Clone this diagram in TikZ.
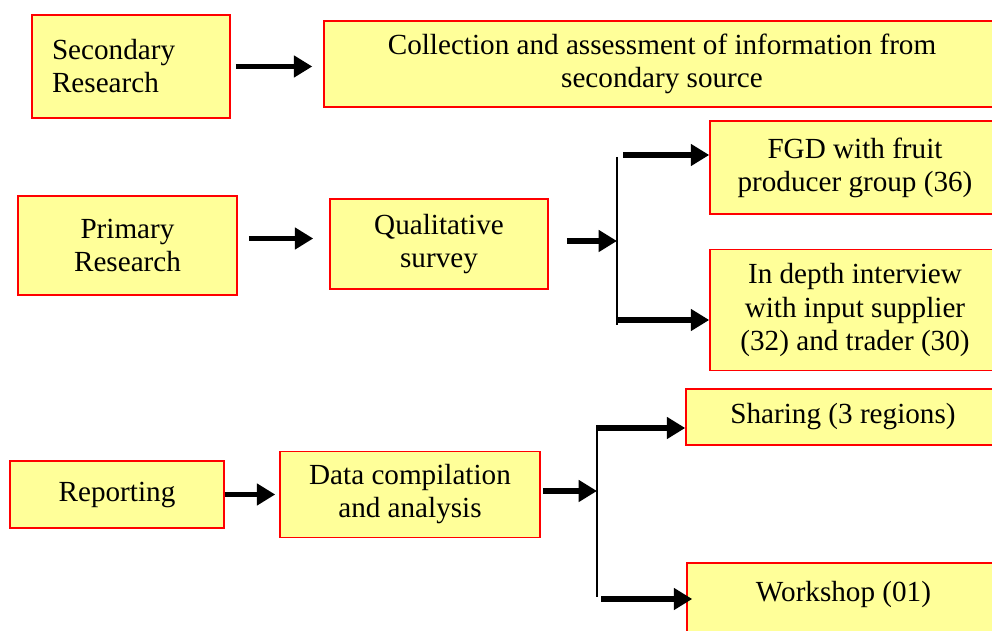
\documentclass[tikz,border=0pt]{standalone}
\usepackage{fontspec}
\setmainfont{Liberation Serif}
\usepackage{xcolor}
\usetikzlibrary{arrows.meta,calc}
\definecolor{boxfill}{HTML}{FFFF99}

\begin{document}
\begin{tikzpicture}[
  x=0.02cm, y=-0.02cm,
  every node/.style={font=\fontsize{16.6}{18.8}\selectfont},
  box/.style={draw=red, line width=0.9pt, fill=boxfill, align=center, inner sep=0pt},
  arr/.style={-{Triangle[length=10.5pt,width=12pt]}, line width=3.1pt},
  bar/.style={line width=1.1pt}
]
  \useasboundingbox (0,0) rectangle (992,631);
  % secondary research
  \node[box, minimum width=3.96cm, minimum height=2.06cm, text width=3.16cm, align=left] (sec) at (131,66.5) {Secondary\\Research};
  \node[box, minimum width=13.52cm, minimum height=1.72cm] (coll) at (662,64)
    {Collection and assessment of information from\\secondary source};
  \draw[arr, shorten <=0.1cm, shorten >=0.22cm] (sec.east) -- (sec.east -| coll.west);
  % primary research
  \node[box, minimum width=4.38cm, minimum height=1.98cm] (prim) at (127.5,245.5) {Primary\\Research};
  \node[box, minimum width=4.36cm, minimum height=1.8cm] (qual) at (439,244) {Qualitative\\survey};
  \node[box, minimum width=5.8cm, minimum height=1.86cm] (fgd) at (855,167.5) {FGD with fruit\\producer group (36)};
  \node[box, minimum width=5.8cm, minimum height=2.42cm] (depth) at (855,310)
    {In depth interview\\with input supplier\\(32) and trader (30)};
  \coordinate (qjoin) at (617,241);
  \coordinate (qtop) at (617,155);
  \coordinate (qlow) at (617,320);
  \draw[arr, shorten <=0.22cm, shorten >=0.32cm] ([yshift=0.14cm]prim.east) -- ([yshift=0.14cm]prim.east -| qual.west);
  \draw[arr, shorten <=0.36cm] (qual.east |- qjoin) -- (qjoin);
  \draw[bar] (617,157) -- (617,325);
  \draw[arr, shorten <=0.12cm] (qtop) -- (qtop -| fgd.west);
  \draw[arr] (qlow) -- (qlow -| depth.west);
  % reporting
  \node[box, minimum width=4.28cm, minimum height=1.34cm] (rep) at (117,494.5) {Reporting};
  \node[box, minimum width=5.2cm, minimum height=1.72cm] (data) at (410,494.5) {Data compilation\\and analysis};
  \node[box, minimum width=6.28cm, minimum height=1.12cm] (share) at (843,417) {Sharing (3 regions)};
  \node[box, anchor=north, minimum width=6.26cm, text height=0.78cm, text depth=1cm] (work) at (843.5,562) {Workshop (01)};
  \coordinate (djoin) at (597,491);
  \coordinate (dtop) at (597,428);
  \coordinate (dlow) at (597,599);
  \draw[arr, shorten >=0.08cm] (rep.east) -- (rep.east -| data.west);
  \draw[arr, shorten <=0.04cm] (data.east |- djoin) -- (djoin);
  \draw[bar] (597,425) -- (597,597);
  \draw[arr] (dtop) -- (dtop -| share.west);
  \draw[arr, shorten <=0.08cm, shorten >=-0.12cm] (dlow) -- (dlow -| work.west);
\end{tikzpicture}
\end{document}
